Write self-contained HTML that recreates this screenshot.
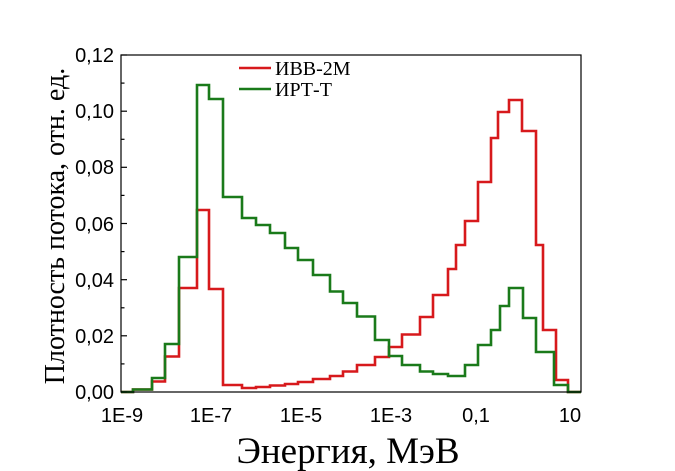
<!DOCTYPE html>
<html><head><meta charset="utf-8"><style>
html,body{margin:0;padding:0;background:#fff;}
svg{display:block;}
</style></head><body>
<svg width="675" height="471" viewBox="0 0 675 471" xmlns="http://www.w3.org/2000/svg">
<rect width="675" height="471" fill="#fff"/>
<polyline fill="none" stroke="#d7191c" stroke-width="2.6" points="
121,392 133,392 133,389.5 152,389.5 152,381.5 165,381.5 165,356.5 179,356.5 179,288 197,288 197,210 209,210 209,289 223,289 223,385 242,385 242,388 256,388 256,387 270,387 270,385.5 285,385.5 285,384 298,384 298,382 313,382 313,379 330,379 330,376 343,376 343,371.5 357,371.5 357,365 375,365 375,357 389,357 389,347 402,347 402,334.5 420,334.5 420,317 433,317 433,295 448,295 448,269 456,269 456,245 465,245 465,221 478,221 478,182 491,182 491,138 498,138 498,112 509,112 509,100 522,100 522,131 536,131 536,245 543,245 543,330 556,330 556,380 568,380 568,392 581,392"/>
<polyline fill="none" stroke="#1a7a1a" stroke-width="2.6" points="
121,392 133,392 133,389.5 152,389.5 152,378 165,378 165,344 179,344 179,257 197,257 197,85 209,85 209,99 223,99 223,197 242,197 242,218 256,218 256,225 270,225 270,233 285,233 285,248 298,248 298,260 313,260 313,275 330,275 330,291.5 343,291.5 343,303 357,303 357,316.5 375,316.5 375,340 389,340 389,356 402,356 402,365 420,365 420,371.5 433,371.5 433,374 448,374 448,376 465,376 465,365 478,365 478,345 491,345 491,330 500,330 500,306 509,306 509,288 523,288 523,318 536,318 536,352 554,352 554,385 568,385 568,392 581,392"/>
<rect x="121" y="55" width="460" height="337" fill="none" stroke="#000" stroke-width="1.2"/>
<g stroke="#000" stroke-width="1.2">
<line x1="121" y1="392" x2="127" y2="392"/><line x1="121" y1="363.9" x2="124.5" y2="363.9"/>
<line x1="121" y1="335.8" x2="127" y2="335.8"/><line x1="121" y1="307.8" x2="124.5" y2="307.8"/>
<line x1="121" y1="279.7" x2="127" y2="279.7"/><line x1="121" y1="251.6" x2="124.5" y2="251.6"/>
<line x1="121" y1="223.5" x2="127" y2="223.5"/><line x1="121" y1="195.4" x2="124.5" y2="195.4"/>
<line x1="121" y1="167.3" x2="127" y2="167.3"/><line x1="121" y1="139.3" x2="124.5" y2="139.3"/>
<line x1="121" y1="111.2" x2="127" y2="111.2"/><line x1="121" y1="83.1" x2="124.5" y2="83.1"/>
<line x1="121" y1="55" x2="127" y2="55"/>
</g>
<g id="xt" stroke="#000" stroke-width="1"></g>
<g font-family="Liberation Sans, sans-serif" font-size="20" text-anchor="end" fill="#000">
<text x="114" y="399">0,00</text><text x="114" y="343">0,02</text><text x="114" y="287">0,04</text>
<text x="114" y="231">0,06</text><text x="114" y="174">0,08</text><text x="114" y="118">0,10</text>
<text x="114" y="62">0,12</text>
</g>
<g font-family="Liberation Sans, sans-serif" font-size="20" text-anchor="middle" fill="#000">
<text x="122" y="422">1E-9</text><text x="211" y="422">1E-7</text><text x="301" y="422">1E-5</text>
<text x="391" y="422">1E-3</text><text x="476" y="422">0,1</text><text x="570" y="422">10</text>
</g>
<text x="348" y="463" font-family="Liberation Serif, serif" font-size="37" text-anchor="middle">Энергия, МэВ</text>
<text transform="translate(64,226) rotate(-90)" font-family="Liberation Serif, serif" font-size="28" text-anchor="middle">Плотность потока, отн. ед.</text>
<line x1="239" y1="68" x2="271" y2="68" stroke="#d7191c" stroke-width="2.6"/>
<text x="275" y="75" font-family="Liberation Serif, serif" font-size="20">ИВВ-2М</text>
<line x1="239" y1="89" x2="271" y2="89" stroke="#1a7a1a" stroke-width="2.6"/>
<text x="275" y="96" font-family="Liberation Serif, serif" font-size="20">ИРТ-Т</text>
<script>
var g=document.getElementById('xt'),s='';
for(var d=-9;d<=1;d++){for(var k=1;k<10;k++){var x=121+(d+9+Math.log10(k))*44.9;if(x>581)break;
var h=(k==1)?6:3.5;s+='<line x1="'+x.toFixed(1)+'" y1="392" x2="'+x.toFixed(1)+'" y2="'+(392-h)+'"/>';}}
g.innerHTML=s;
</script>
</svg>
</body></html>
